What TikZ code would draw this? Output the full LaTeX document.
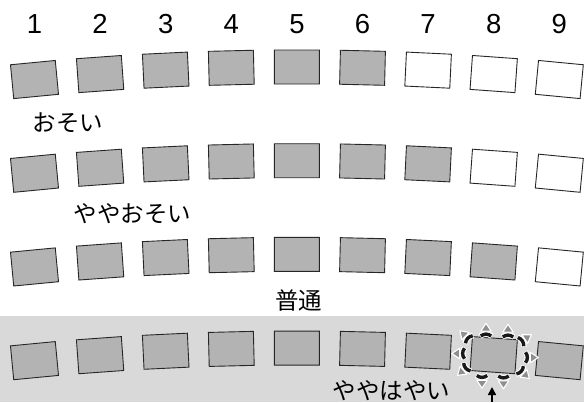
\documentclass[tikz,border=0pt]{standalone}
\usepackage{fontspec}
\setmainfont{Liberation Sans}
\newfontfamily\jp{Noto Sans CJK JP}
\usetikzlibrary{arrows.meta}
\definecolor{boxgray}{HTML}{B3B3B3}
\definecolor{bandgray}{HTML}{D9D9D9}
\definecolor{trigray}{HTML}{8F8F8F}
\tikzset{
  seat/.style={draw=black!85, line width=0.9pt, minimum width=45pt, minimum height=34pt, inner sep=0pt},
  numlabel/.style={font=\fontsize{27.5}{30}\selectfont, inner sep=0pt, anchor=base},
  jplabel/.style={font=\jp\fontsize{23.5}{26}\selectfont, inner sep=0pt},
  uparrow/.style={-{Triangle[width=8pt,length=8pt]}, line width=1.6pt, black}
}
\newcommand\shakemark[3]{%
  \begin{scope}[shift={(#1,#2)},rotate=#3]
    \draw[white, line width=5.6pt, line cap=butt] (-1.5,-5.8) .. controls (1,-2) and (1,2) .. (-1.5,5.8);
    \draw[black!90, line width=3.4pt, line cap=butt] (-1.5,-5.2) .. controls (1,-2) and (1,2) .. (-1.5,5.2);
    \filldraw[fill=trigray, draw=white, line width=1.1pt, line join=round] (3.4,-5.2) -- (11.2,0) -- (3.4,5.2) -- cycle;
  \end{scope}}
\begin{document}
\begin{tikzpicture}[x=1pt,y=-1pt]
  \useasboundingbox (0,0) rectangle (584,402);
  \fill[white] (0,0) rectangle (584,402);
  \fill[bandgray] (0,316) rectangle (584,402);
  % seats
  \foreach \r in {0,...,3}{
    \foreach \i in {1,...,9}{
      \pgfmathsetmacro\bx{34.5+65.6*(\i-1)}
      \pgfmathsetmacro\dx{(\bx-297)/100}
      \pgfmathsetmacro\by{67+1.82*\dx*\dx+93.7*\r}
      \pgfmathsetmacro\ang{-atan(0.0364*\dx)}
      \pgfmathtruncatemacro\isgray{(\i<=6+\r)}
      \ifnum\isgray=1 \def\fcol{boxgray}\else\def\fcol{white}\fi
      \node[seat, fill=\fcol, rotate=\ang] (b\r-\i) at (\bx,\by) {};
    }
  }
  % numbers
  \foreach \i in {1,...,9}{
    \pgfmathsetmacro\bx{34.5+65.6*(\i-1)}
    \node[numlabel] (n\i) at (\bx,33) {\i};
  }
  % labels
  \node[jplabel] (l1) at (68,122.5) {おそい};
  \node[jplabel] (l2) at (132.5,214) {ややおそい};
  \node[jplabel] (l3) at (298.5,300.5) {普通};
  \node[jplabel, anchor=south] (l4) at (391.5,401.2) {ややはやい};
  % shake marks around seat 8 of the last row
  \shakemark{486}{334.5}{90}
  \shakemark{508}{335.5}{90}
  \shakemark{468}{338.5}{136}
  \shakemark{463}{353.5}{180}
  \shakemark{466}{368}{221}
  \shakemark{482}{377}{270}
  \shakemark{503.5}{377.5}{270}
  \shakemark{521}{371}{318}
  \shakemark{527}{357.5}{0}
  \shakemark{522}{341}{34}
  % arrow
  \coordinate (arrowbase) at (492,402);
  \coordinate (arrowtip) at (492,387);
  \draw[uparrow] (arrowbase) -- (arrowtip);
\end{tikzpicture}
\end{document}
